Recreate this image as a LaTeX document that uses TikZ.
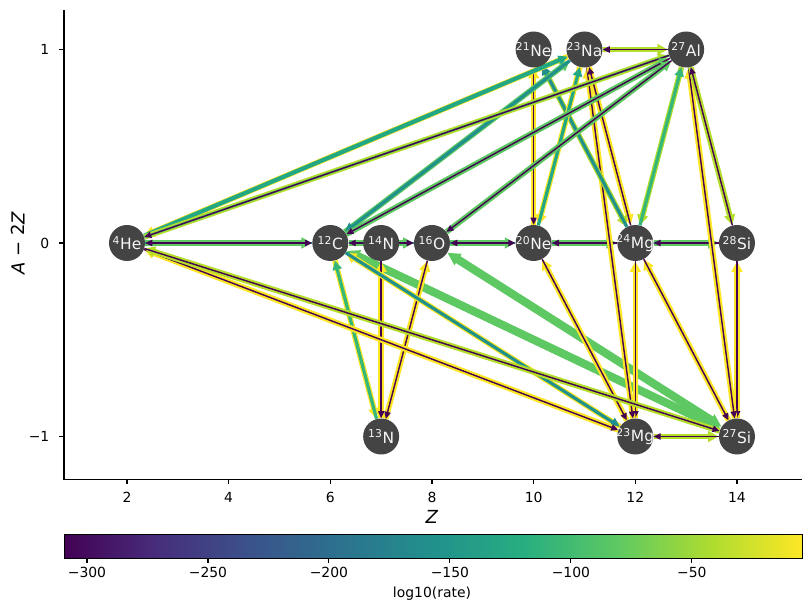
\documentclass[tikz,border=0pt]{standalone}
\usepackage{fontspec}
\setmainfont{DejaVu Sans}
\usepackage{xcolor}
\usepackage{tikz}
\usetikzlibrary{arrows.meta}

\definecolor{vpurple}{HTML}{440154}
\definecolor{vblue}{HTML}{2C728E}
\definecolor{vteal}{HTML}{21918C}
\definecolor{vtgreen}{HTML}{22A884}
\definecolor{vgreen}{HTML}{35B779}
\definecolor{vlgreen}{HTML}{5EC962}
\definecolor{vygreen}{HTML}{B5DE2B}
\definecolor{vyellow}{HTML}{FDE725}
\definecolor{nucgray}{HTML}{444444}
\definecolor{v0}{HTML}{440154}
\definecolor{v1}{HTML}{472D7B}
\definecolor{v2}{HTML}{3B528B}
\definecolor{v3}{HTML}{2C728E}
\definecolor{v4}{HTML}{21918C}
\definecolor{v5}{HTML}{28AE80}
\definecolor{v6}{HTML}{5EC962}
\definecolor{v7}{HTML}{ADDC30}
\definecolor{v8}{HTML}{FDE725}

\pgfdeclarehorizontalshading{viridis}{100bp}{color(0bp)=(v0); color(25bp)=(v0);
  color(31.25bp)=(v1); color(37.5bp)=(v2); color(43.75bp)=(v3); color(50bp)=(v4);
  color(56.25bp)=(v5); color(62.5bp)=(v6); color(68.75bp)=(v7); color(75bp)=(v8);
  color(100bp)=(v8)}

\pgfdeclarelayer{edges}
\pgfsetlayers{edges,main}

\newcommand{\tickfont}{\fontsize{9.9}{11}\selectfont}
\newcommand{\nucfont}{\fontsize{11}{13}\selectfont}
\newcommand{\labfont}{\fontsize{12.8}{15}\selectfont}
\newcommand{\nuclide}[2]{\makebox[0pt]{\textsuperscript{#1}#2}}

\tikzset{>=latex}
\tikzstyle{nuc} = [circle, fill=nucgray, text=white!92!gray, minimum size=0.9cm, inner sep=0pt, font=\nucfont]
\tikzstyle{fatlink} = [line width=4pt, -{Triangle[length=7.5pt,width=7.5pt]}]
\tikzstyle{medlink} = [line width=2.3pt, -{Triangle[length=6.5pt,width=6.5pt]}]
\tikzstyle{corelink} = [line width=1.8pt]
\tikzstyle{slowlink} = [line width=1pt, draw=vpurple, fill=vpurple, -{Triangle[length=5pt,width=4.5pt]}]
\tikzstyle{slowboth} = [slowlink, {Triangle[length=5pt,width=4.5pt]}-{Triangle[length=5pt,width=4.5pt]}]
\tikzstyle{widelink} = [line width=5.8pt, draw=vlgreen, {Triangle[length=9pt,width=9pt]}-{Triangle[length=9pt,width=9pt]}]

\begin{document}
\begin{tikzpicture}
\useasboundingbox (0,0) rectangle (20.275,15.275);

% colour bar
\node [shading=viridis, draw=black, line width=0.6pt, minimum width=18.45cm, minimum height=0.6cm, inner sep=0pt] (cbar) at (10.825,1.625) {};
\foreach \v in {300,250,...,50} {
  \draw [line width=0.8pt] ({(87+(300-\v)*2.42)*0.025},1.325) -- ++(0,-3.5pt);
  \node [font=\tickfont] (cb\v) at ({(87+(300-\v)*2.42)*0.025},0.975) {−\v};
}
\node [font=\tickfont] (cblabel) at (10.8,0.425) {log10(rate)};

\begin{scope}[shift={(0.633cm,9.2cm)}, x=1.2708cm, y=4.8375cm]
% axes
\draw [line width=0.8pt] (0.761,1.204) -- (0.761,-1.22) -- (15.28,-1.22);
\foreach \x in {2,4,...,14} {
  \draw [line width=0.8pt] (\x,-1.22) -- ++(0,-3.5pt);
  \node [font=\tickfont] (xt\x) at (\x,-1.313) {\x};
}
\foreach \y/\t in {-1/−1,0/0,1/1} {
  \draw [line width=0.8pt] (0.761,\y) -- ++(-3.5pt,0);
  \node [font=\tickfont, anchor=east] (yt\y) at (0.57,\y) {\t};
}
\node [font=\labfont] (zlab) at (8,-1.416) {\textit{Z}};
\node [font=\labfont, rotate=90] (alab) at (-0.144,0) {\textit{A} − 2\textit{Z}};

% nuclei
\node [nuc] (he4) at (2,0) {\nuclide{4}{He}};
\node [nuc] (c12) at (6,0) {\nuclide{12}{C}};
\node [nuc] (n13) at (7,-1) {\nuclide{13}{N}};
\node [nuc] (n14) at (7,0) {\nuclide{14}{N}};
\node [nuc] (o16) at (8,0) {\nuclide{16}{O}};
\node [nuc] (ne20) at (10,0) {\nuclide{20}{Ne}};
\node [nuc] (ne21) at (10,1) {\nuclide{21}{Ne}};
\node [nuc] (na23) at (11,1) {\nuclide{23}{Na}};
\node [nuc] (mg23) at (12,-1) {\nuclide{23}{Mg}};
\node [nuc] (mg24) at (12,0) {\nuclide{24}{Mg}};
\node [nuc] (al27) at (13,1) {\nuclide{27}{Al}};
\node [nuc] (si27) at (14,-1) {\nuclide{27}{Si}};
\node [nuc] (si28) at (14,0) {\nuclide{28}{Si}};

\begin{pgfonlayer}{edges}
\draw [widelink] (c12) -- (si27);
\draw [widelink] (o16) -- (si27);

% A-2Z = 0 row
\draw [fatlink, vlgreen] (he4) -- (c12);
\draw [corelink, vteal] (he4) -- (c12);
\draw [slowboth] (he4) -- (c12);
\draw [fatlink, vlgreen] (c12) -- (o16);
\draw [corelink, vteal] (c12) -- (o16);
\draw [slowboth] (c12) -- (o16);
\draw [fatlink, vlgreen] (o16) -- (ne20);
\draw [corelink, vteal] (o16) -- (ne20);
\draw [slowboth] (o16) -- (ne20);
\draw [fatlink, vlgreen] (ne20) -- (mg24);
\draw [corelink, vteal] (ne20) -- (mg24);
\draw [slowlink] (mg24) -- (ne20);
\draw [fatlink, vlgreen] (mg24) -- (si28);
\draw [corelink, vteal] (mg24) -- (si28);
\draw [slowlink] (si28) -- (mg24);

\draw [fatlink, vygreen] (na23) -- (al27);
\draw [slowlink] (al27) -- (na23);
\draw [fatlink, vygreen] (mg23) -- (si27);
\draw [slowlink] (si27) -- (mg23);

% steps in A-2Z
\draw [fatlink, vyellow] (ne20) -- (ne21);
\draw [slowlink] (ne21) -- (ne20);
\draw [fatlink, vyellow] (n13) -- (n14);
\draw [slowlink] (n14) -- (n13);
\draw [fatlink, vyellow] (n13) -- (o16);
\draw [slowlink] (o16) -- (n13);
\draw [fatlink, vyellow] (c12) -- (n13);
\draw [medlink, vgreen] (n13) -- (c12);
\draw [fatlink, vyellow] (mg23) -- (mg24);
\draw [slowlink] (mg24) -- (mg23);
\draw [fatlink, vyellow] (si27) -- (si28);
\draw [slowlink] (si28) -- (si27);
\draw [fatlink, vyellow] (mg23) -- (ne20);
\draw [slowlink] (ne20) -- (mg23);
\draw [fatlink, vyellow] (si27) -- (mg24);
\draw [slowlink] (mg24) -- (si27);
\draw [fatlink, vyellow] (mg23) -- (na23);
\draw [slowlink] (na23) -- (mg23);
\draw [fatlink, vyellow] (na23) -- (mg24);
\draw [slowlink] (mg24) -- (na23);
\draw [fatlink, vygreen] (al27) -- (mg24);
\draw [medlink, vgreen] (mg24) -- (al27);
\draw [fatlink, vyellow] (si27) -- (al27);
\draw [slowlink] (al27) -- (si27);
\draw [fatlink, vygreen] (al27) -- (si28);
\draw [slowlink] (si28) -- (al27);
\draw [fatlink, vygreen] (ne21) -- (mg24);
\draw [medlink, vteal] (mg24) -- (ne21);
\draw [fatlink, vyellow] (na23) -- (ne20);
\draw [medlink, vtgreen] (ne20) -- (na23);

% long links
\draw [fatlink, vlgreen] (c12) -- (na23);
\draw [medlink, vteal] (na23) -- (c12);
\draw [fatlink, vyellow] (na23) -- (he4);
\draw [medlink, vtgreen, line width=3pt] (he4) -- (na23);
\draw [fatlink, vygreen] (he4) -- (al27);
\draw [corelink, vlgreen] (he4) -- (al27);
\draw [slowlink] (al27) -- (he4);
\draw [fatlink, vlgreen] (c12) -- (al27);
\draw [slowlink] (al27) -- (c12);
\draw [fatlink, vlgreen] (o16) -- (al27);
\draw [slowlink] (al27) -- (o16);
\draw [fatlink, vyellow] (mg23) -- (c12);
\draw [medlink, vteal] (c12) -- (mg23);
\draw [fatlink, vyellow] (mg23) -- (he4);
\draw [slowlink] (he4) -- (mg23);
\draw [fatlink, vygreen] (si27) -- (he4);
\draw [slowlink] (he4) -- (si27);
\end{pgfonlayer}
\end{scope}
\end{tikzpicture}
\end{document}
